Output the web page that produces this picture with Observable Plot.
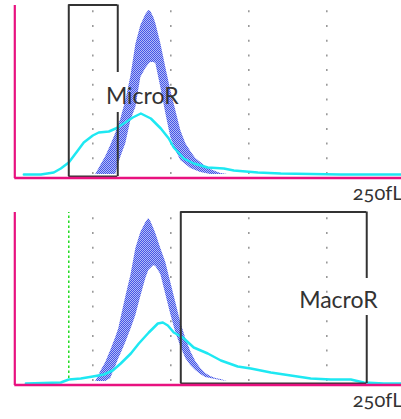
<!DOCTYPE html>
<html><head><meta charset="utf-8">
<script src="https://cdn.jsdelivr.net/npm/d3@7"></script>
<script src="https://cdn.jsdelivr.net/npm/@observablehq/plot@0.6"></script>
<style>body{margin:0;background:#fff}svg{display:block}</style>
</head><body><div id="c"></div>
<script>
// x in fL, y in relative counts
const gridFL = [50, 100, 150, 200];
const bandFL = [51.9,55.1,58.3,61.5,64.7,66.7,67.9,71.2,74.4,77.6,80.8,84.0,85.9,87.2,89.1,90.4,93.6,96.8,100.0,103.2,106.4,109.6,112.8,116.0,119.2,122.4,125.6,128.8,132.1,136.5];
const topOuter = [3,12,21,32,44,53,58,77,101,133,152,163,167,166,160,154,134,110,87,67,47,34,26,19,15,11,8,6,4,3];
const topInner = [3,3,3,3,3,14,20,34,57,70,100,109,113,115,115,114,90,64,40,27,17,13,9,7,5,4,3,3,3,3];
const botOuter = [3,13,22,34,47,56,65,88,109,136,152,162,166,163,156,151,136,122,102,82,62,46,33,23,16,11,8,6,5,3];
const botInner = [3,3,3,6,18,26,30,42,55,69,88,106,114,116,119,118,110,90,70,52,38,26,19,14,10,7,6,5,4,3];

const topCyanFL = [5.8,16.7,25,29.5,34.6,40.4,44.2,50,53.8,60.3,64.7,69.9,75.6,80.8,87.2,93.6,98.7,101.9,108.3,114.7,123.7,134,140.4,155.8,170.5,209,248];
const topCyan   = [3,3,5,9,15,27,35,42,45,46,49,54,60,64,59,49,39,30,19,14,10,9,7,5,4,3,3];
const botCyanFL = [7.1,29.5,34.6,42.3,50,57.1,62.8,67.9,74.4,79.5,85.9,91.7,94.9,98.1,101.9,107.7,114.7,123.7,132.1,142.9,151.3,164.1,176.9,189.7,202.6,215.4,223.7,236.5,248];
const botCyan   = [1,2,5,6,8,10,14,21,31,41,52,61,62,59,52,47,37,31,24,18,16,12,9,6,5,5,2,1,1];

const labels = ["MicroR", "MacroR"];
const unitLabel = "250fL";
const boxFL = [[34.6, 66.0], [106.4, 225.6]];
const boxGap = [[65, 105], [69, 106]];
const labelPos = [[81.7, 81.2], [207.4, 84.2]];
const greenFL = 34.6;

function panel(i, outer, inner, cx, cy, height) {
  const band = bandFL.map((x, k) => ({x, y1: inner[k], y2: outer[k]}));
  const cyan = cx.map((x, k) => ({x, y: cy[k]}));
  const [bx1, bx2] = boxFL[i];
  const [g1, g2] = boxGap[i];
  const pid = "hatch" + i;
  const marks = [
    Plot.ruleX(gridFL, {y1: 3, y2: 169, stroke: "#999", strokeWidth: 1.6, strokeDasharray: "2,12.7"}),
  ];
  if (i === 1) marks.push(Plot.ruleX([greenFL], {y1: 6, y2: 172, stroke: "#22dd22", strokeWidth: 1.5, strokeDasharray: "2.5,2.5"}));
  marks.push(
    Plot.areaY(band, {x: "x", y1: "y1", y2: "y2", fill: `url(#${pid})`, curve: "linear"}),
    Plot.line(cyan, {x: "x", y: "y", stroke: "#1ee8f2", strokeWidth: 2.5, curve: "linear"}),
    Plot.ruleX([bx1], {y1: 1, y2: 172.5, stroke: "#333", strokeWidth: 2}),
    Plot.ruleX([bx2], {y1: 1, y2: g1, stroke: "#333", strokeWidth: 2}),
    Plot.ruleX([bx2], {y1: g2, y2: 172.5, stroke: "#333", strokeWidth: 2}),
    Plot.ruleY([172.5], {x1: bx1, x2: bx2, stroke: "#333", strokeWidth: 2}),
    Plot.ruleY([1], {x1: bx1, x2: bx2, stroke: "#333", strokeWidth: 2}),
    Plot.ruleX([0], {y1: -1, y2: 172, stroke: "#e8117f", strokeWidth: 2.2}),
    Plot.ruleY([0], {x1: 0, x2: 250, stroke: "#e8117f", strokeWidth: 2.4, dy: 0.5}),
    Plot.text([labels[i]], {x: labelPos[i][0], y: labelPos[i][1], text: d => d, fontSize: 23, fill: "#333", textAnchor: "middle", fontFamily: "Lato"}),
    Plot.text([unitLabel], {x: 248.5, y: -16, text: d => d, fontSize: 20, fill: "#333", textAnchor: "end", fontFamily: "Lato", fontVariant: "oldstyle-nums"})
  );
  const svg = Plot.plot({
    width: 401, height,
    marginTop: 5, marginBottom: height - 177, marginLeft: 14, marginRight: 0,
    x: {domain: [0, 250], range: [14.3, 404.3], axis: null},
    y: {domain: [0, 172], range: [177, 5], axis: null},
    style: {background: "white", overflow: "visible"},
    marks
  });
  d3.select(svg).insert("defs", ":first-child").html(
    `<pattern id="${pid}" patternUnits="userSpaceOnUse" width="2" height="2">
       <rect width="2" height="2" fill="#b2bbf7"/>
       <rect x="0" y="0" width="1" height="1" fill="#4656e6"/>
       <rect x="1" y="1" width="1" height="1" fill="#4656e6"/>
     </pattern>`);
  return svg;
}

const c = document.getElementById("c");
c.appendChild(panel(0, topOuter, topInner, topCyanFL, topCyan, 207));
c.appendChild(panel(1, botOuter, botInner, botCyanFL, botCyan, 212));
</script></body></html>
